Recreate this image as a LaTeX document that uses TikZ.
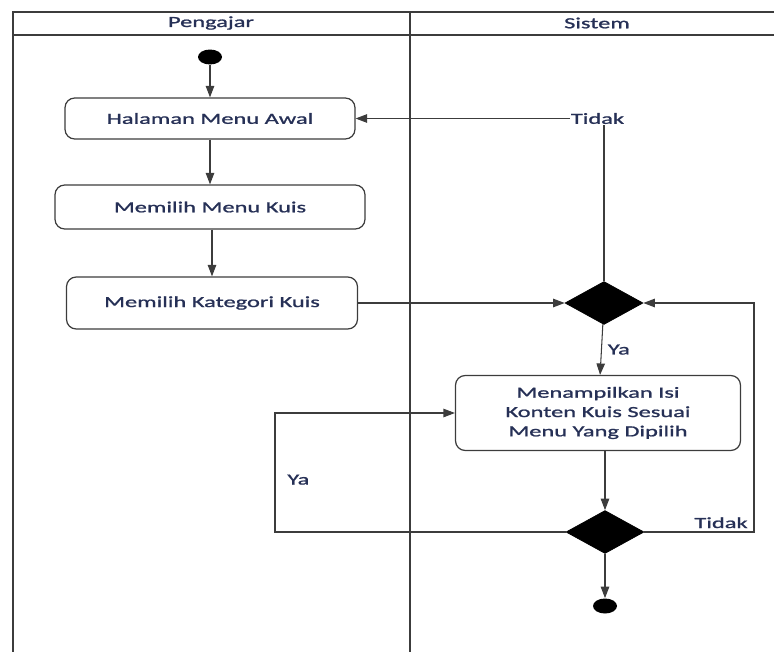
\documentclass[tikz,border=0pt]{standalone}
\usepackage{fontspec}
\setmainfont{Carlito}[FakeStretch=1.58, FakeBold=1.2]
\usepackage{tikz}
\usetikzlibrary{shapes.geometric, arrows.meta, positioning, calc}
\definecolor{labelnavy}{RGB}{38, 48, 86}
\definecolor{linegray}{RGB}{60, 60, 60}

\begin{document}
\begin{tikzpicture}[
    x=0.02cm, y=-0.02cm,
    lane/.style={draw=linegray, line width=1.1pt},
    action/.style={rectangle, draw=linegray, line width=0.7pt, rounded corners=5.5pt,
                   align=center, font=\fontsize{8.8}{11}\selectfont\color{labelnavy}},
    decision/.style={diamond, fill=black, draw=black, inner sep=0pt,
                     minimum width=1.56cm, minimum height=0.86cm},
    dot/.style={ellipse, fill=black, inner sep=0pt,
                minimum width=0.48cm, minimum height=0.3cm},
    guard/.style={font=\fontsize{8.8}{11}\selectfont\color{labelnavy}},
    arrow/.style={-{Triangle[length=6.5pt, width=4.8pt]}, draw=linegray, line width=0.6pt}
]
\useasboundingbox (0,0) rectangle (774,652);

%% ── Swimlanes ───────────────────────────────────────────────────────────────
\draw[lane] (13,652) -- (13,12) -- (774,12);
\draw[lane] (13,35) -- (774,35);
\draw[lane] (410,12) -- (410,652);
\node[guard] (pengajar) at (211,23) {Pengajar};
\node[guard] (sistem)   at (597,23) {Sistem};

%% ── Pengajar ────────────────────────────────────────────────────────────────
\node[dot] (start) at (210,57) {};
\node[action, minimum width=5.8cm,  minimum height=0.82cm] (menuawal) at (210,118.5) {Halaman Menu Awal};
\node[action, minimum width=6.2cm,  minimum height=0.88cm] (menukuis) at (210,207) {Memilih Menu Kuis};
\node[action, minimum width=5.82cm, minimum height=1.04cm] (kategori) at (212,303) {Memilih Kategori Kuis};

%% ── Sistem ──────────────────────────────────────────────────────────────────
\node[decision] (cek1) at (604,303) {};
\node[action, minimum width=5.7cm, minimum height=1.5cm] (isikonten) at (598,413)
     {Menampilkan Isi\\Konten Kuis Sesuai\\Menu Yang Dipilih};
\node[decision] (cek2) at (605,532) {};
\node[dot] (end) at (605,606) {};

\coordinate (kiri)  at (275,413);
\coordinate (kanan) at (754,303);

%% ── Arrows ──────────────────────────────────────────────────────────────────
\draw[arrow] (start)    -- (menuawal);
\draw[arrow] (menuawal) -- (menukuis);
\draw[arrow] (menukuis.south -| kategori) -- (kategori);
\draw[arrow] (kategori) -- (cek1);
\draw[arrow] (cek1.north) |- node[pos=0.5, guard, fill=white, inner sep=0.6pt, xshift=-0.13cm]{Tidak} (menuawal.east);
\draw[arrow] (cek1) -- node[right, guard, pos=0.5]{Ya} (isikonten);
\draw[arrow] (isikonten.south -| cek2) -- (cek2);
\draw[arrow] (cek2.west) -| node[pos=0.72, right, guard, xshift=0.12cm]{Ya} (kiri) -- (isikonten.west);
\draw[arrow] (cek2.east) -| node[pos=0.5, above left, guard, yshift=-0.05cm]{Tidak} (kanan) -- (cek1.east);
\draw[arrow] (cek2) -- (end);

\end{tikzpicture}
\end{document}
